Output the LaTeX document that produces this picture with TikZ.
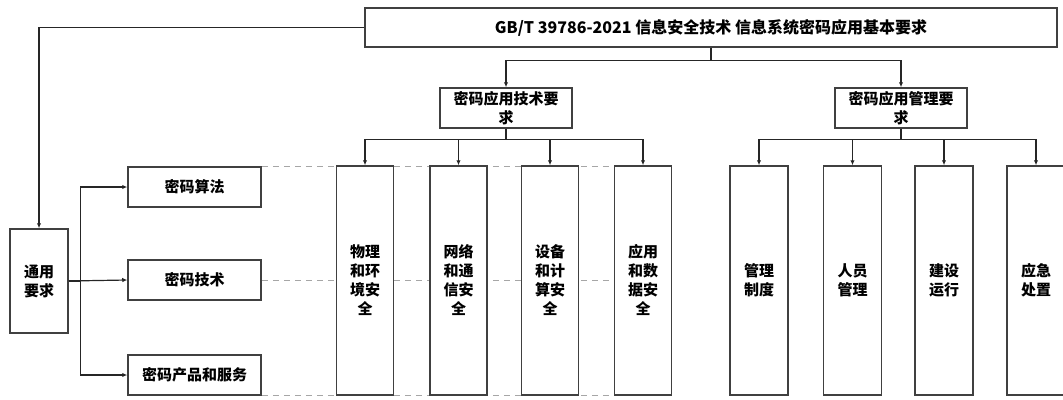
\documentclass[tikz,border=0pt]{standalone}
\usepackage{fontspec}
\newfontfamily\cjk{Noto Sans CJK SC}
\usetikzlibrary{arrows.meta}
\begin{document}
\begin{tikzpicture}[x=1pt,y=-1pt,
  box/.style={draw=black!75,line width=1.5pt,fill=white,inner sep=0pt,align=center,
    font=\cjk\bfseries\fontsize{15}{19}\selectfont},
  col/.style={box,minimum width=57pt,minimum height=229pt},
  wide/.style={box,minimum width=133pt,minimum height=40pt},
  arr/.style={draw=black!85,line width=1.2pt,-{Latex[length=5pt,width=4.5pt]}},
  guide/.style={draw=black!35,line width=0.9pt,dash pattern=on 6pt off 5pt}]
\useasboundingbox (0,0) rectangle (1063,399);
% boxes on the left
\node[box,minimum width=692pt,minimum height=39pt,font=\cjk\bfseries\fontsize{16}{19}\selectfont] (top) at (711,27.5)
  {GB/T 39786-2021 信息安全技术 信息系统密码应用基本要求};
\node[box,minimum width=58pt,minimum height=104pt] (tong) at (39,281) {通用\\要求};
\node[wide] (suanfa) at (194.5,187) {密码算法};
\node[wide] (jishu) at (194.5,280) {密码技术};
\node[wide] (chanpin) at (194.5,375) {密码产品和服务};
\node[wide,minimum width=132pt] (tech) at (506,108) {密码应用技术要\\求};
\node[wide,minimum width=132pt] (mgmt) at (901,108) {密码应用管理要\\求};
% dashed guide lines (behind the columns)
\coordinate (dr) at (672,0);
\draw[guide] (suanfa.north east) -- (suanfa.north east -| dr);
\draw[guide] (jishu.east) -- (jishu.east -| dr);
\draw[guide] (chanpin.south east) -- (chanpin.south east -| dr);
% columns
\node[col] (c1) at (365,280.5) {物理\\和环\\境安\\全};
\node[col] (c2) at (458.5,280.5) {网络\\和通\\信安\\全};
\node[col] (c3) at (550,280.5) {设备\\和计\\算安\\全};
\node[col] (c4) at (643,280.5) {应用\\和数\\据安\\全};
\node[col,minimum width=58pt] (m1) at (759,280.5) {管理\\制度};
\node[col,minimum width=58pt] (m2) at (852.5,280.5) {人员\\管理};
\node[col,minimum width=58pt] (m3) at (944,280.5) {建设\\运行};
\node[col,minimum width=58pt] (m4) at (1036,280.5) {应急\\处置};
% connectors
\draw[arr] (top.west) -| (tong.north);
\draw[arr] (top.south) -- ++(0,13) -| (tech.north);
\draw[arr] (top.south) -- ++(0,13) -| (mgmt.north);
\foreach \c in {c1,c2,c3,c4}
  \draw[arr] (tech.south) -- ++(0,11) -| (\c.north);
\foreach \c in {m1,m2,m3,m4}
  \draw[arr] (mgmt.south) -- ++(0,11) -| (\c.north);
\draw[arr] (tong.east) -- ++(12,0) |- (suanfa.west);
\draw[arr] (tong.east) -- (jishu.west);
\draw[arr] (tong.east) -- ++(12,0) |- (chanpin.west);
\end{tikzpicture}
\end{document}
